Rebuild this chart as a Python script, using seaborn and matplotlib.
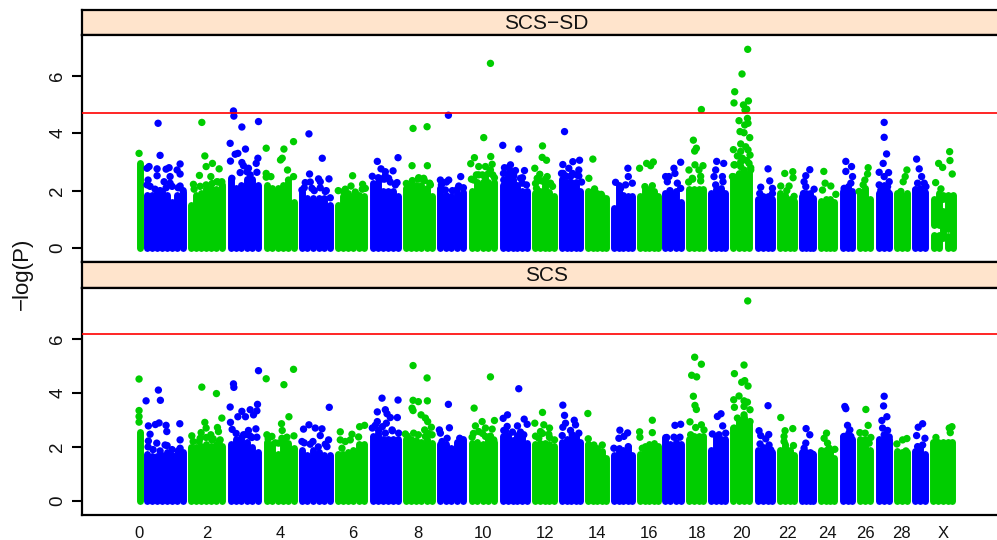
import numpy as np
import pandas as pd
import matplotlib
matplotlib.use("Agg")
import matplotlib.pyplot as plt
import seaborn as sns

chrom_start = [136,143,187,227,263,298,334,369,402,436,468,499,531,558,584,610,636,661,685,707,729,754,776,798,817,839,856,875,893,911,929]
chrom_end = [143,186,225,261,297,333,367,401,435,466,497,530,557,583,609,635,661,684,706,728,752,775,797,816,837,855,873,892,910,928,955]
tick_pos = [139,207,280,352,418,483,545,596,648,696,741,787,827,865,901,942]
tick_labels = ["0","2","4","6","8","10","12","14","16","18","20","22","24","26","28","X"]

sd_tops = [[2.95],
 [1.85,1.85,1.95,2.0,1.85,1.6,1.85,1.95],[1.5,1.85,1.9,2.1,2.1,2.05,2.15],[2.4,2.1,2.2,2.4,2.4,2.2],
 [2.2,2.1,2.1,2.2,2.3,1.6],[2.0,1.75,1.75,1.75,1.75,1.5],[1.5,1.8,1.9,1.8,1.85,1.8],[2.25,2.3,2.0,2.0,2.0,1.8],
 [2.1,2.2,2.2,2.2,2.1,1.8],[2.1,1.85,1.8,1.9,1.95],[2.0,2.3,2.3,2.3,2.3],[2.2,2.6,2.4,2.2,2.0,2.0],
 [1.9,2.0,2.2,1.95,1.8],[2.4,2.3,2.3,2.3,2.0],[2.0,2.0,1.9,1.8,1.75],[1.4,2.2,1.85,1.8,1.8],
 [1.8,2.05,2.05,2.0,1.8],[1.9,2.0,2.0,1.6],[2.05,2.05,2.05,2.05],[1.9,2.05,2.1,1.9],[2.5,2.6,2.6,2.6],
 [1.7,1.8,1.8,1.7],[1.9,1.85,1.7,1.65],[1.8,1.9,1.9,1.75],[1.65,1.7,1.7,1.6],[2.0,2.15,2.0],[1.9,2.1,1.7],
 [1.9,2.2,1.9],[1.9,1.85,1.9],[2.05,2.1,1.95],[]]
scs_tops = [[2.55],
 [1.75,1.65,1.65,1.7,1.8,1.7,1.7,1.8],[2.0,2.0,2.05,2.1,2.05,2.1,2.05],[2.1,2.3,2.35,2.2,2.0,1.8],
 [2.2,2.1,1.75,2.1,2.15,1.95],[1.9,1.7,1.9,1.8,1.7,1.7],[1.75,1.75,1.8,1.9,2.1,2.1],[2.4,2.5,2.3,2.3,2.3,2.3],
 [2.3,2.3,2.25,2.2,2.3,2.15],[2.1,2.1,1.95,2.2,2.3],[2.15,2.2,2.1,2.3,2.2],[2.4,2.45,2.25,2.45,2.45,2.15],
 [2.1,2.15,2.15,2.1,2.05],[2.2,2.3,2.3,2.4,2.2],[2.1,2.0,1.95,1.85,1.6],[1.7,1.95,1.9,2.0,1.7],
 [1.75,2.05,2.1,2.15,2.05],[2.35,2.1,2.2,2.1],[2.3,2.4,2.4,2.4],[1.9,2.4,2.3,2.3],[2.7,3.0,3.1,2.9],
 [1.9,2.0,1.9,1.8],[1.9,2.1,1.9,1.7],[1.8,1.8,1.8,1.75],[1.9,1.9,1.9,1.6],[2.4,2.5,2.3],[2.3,2.3,1.9],
 [2.3,2.3,2.3],[1.85,1.8,1.8],[1.85,2.0,1.75],[2.2,2.2,2.2,2.2,2.2]]

# Chromosome X of the upper panel has visible holes, so it is kept as separate runs.
sd_x_pos = [933,933,938,938,942.5,942.5,947,947,952]
sd_x_low = [0,0.8,0,0.8,0.35,1.7,0,0.65,0]
sd_x_high = [0.45,1.7,0.45,1.9,1.3,1.85,0.4,1.85,1.85]

sd_blue_pos = [158,160,147,149,157,169,166,180,177,180,157,170,164,148,170,180,
 233.3,233.7,241.7,258.3,230,245.3,235,237.7,257.7,230.3,256,241.7,243.3,248.3,240,246.7,256.7,231.7,250,
 308.7,322,309.3,328.7,318.3,320,305,311.7,301.7,325,
 377,397.7,380.7,392.7,385,385,381.7,396.7,388.3,
 448,460.3,440,448.3,458.3,445,
 502.3,518.3,510,504,524,511.7,513.3,503.3,520,521.7,
 564,562.3,572.3,579,562.7,568.3,578.3,570,578.3,
 627.3,627.7,615,631.7,620,625,
 680,673.3,674.3,665,668.3,666.7,676.7,669.3,680,
 716,723,715,721.7,713.3,722.3,715,
 767.3,769,760,771.7,759,771.7,
 809,805,803.3,805,813.3,802.7,
 845,850.7,845,851.7,850,843.3,
 883.3,883.3,885.7,882.3,878.3,887.7,883.3,888.3,878.3,886.7,880,886.7,
 915.7,918.3,920.7,923.3,916.7,925,915,
 147,150,155,160,166,172,178,183,304,310,314,320,326,330,372,378,384,390,395,
 441,446,452,457,463,503,508,515,522,526,561,566,572,576,581]
sd_blue_val = [4.35,3.23,2.78,2.84,2.76,2.8,2.75,2.93,2.72,2.58,2.52,2.49,2.31,2.37,2.26,2.16,
 4.78,4.6,4.22,4.41,3.65,3.45,3.27,3.3,3.13,3.03,2.95,2.98,2.87,2.78,2.63,2.66,2.64,2.43,2.55,
 3.98,3.13,2.58,2.41,2.41,2.31,2.28,2.08,2.02,1.97,
 3.02,3.15,2.76,2.69,2.66,2.52,2.41,2.28,2.43,
 4.63,2.49,2.37,2.37,2.16,2.02,
 3.58,3.45,2.9,2.8,2.7,2.66,2.52,2.37,2.43,2.26,
 4.06,2.91,3.01,3.06,2.6,2.78,2.72,2.49,2.51,
 2.78,2.49,2.29,2.26,2.08,2.2,
 2.99,2.78,2.6,2.49,2.49,2.31,2.26,2.0,2.08,
 3.02,2.95,2.72,2.49,2.49,2.31,2.2,
 2.76,2.34,2.12,2.08,1.9,1.9,
 2.73,2.52,2.31,2.14,2.05,1.9,
 3.02,2.84,2.67,2.49,2.26,2.08,
 4.38,3.86,3.28,2.95,2.64,2.63,2.49,2.31,2.2,2.14,2.02,1.97,
 3.1,2.76,2.49,2.26,2.26,2.14,2.02,
 2.2,2.15,2.05,2.0,2.1,2.15,2.1,2.0,2.1,2.3,2.0,2.1,2.0,1.75,2.5,2.45,2.4,2.3,2.2,
 2.2,2.3,2.0,2.05,2.1,2.6,2.8,2.7,2.45,2.2,2.6,2.5,2.6,2.55,2.3]
sd_green_pos = [139,
 201.7,204.7,212.3,206,219,199.3,210.7,193.3,216.7,221.7,
 266,293.3,283.7,282,280.3,287.3,293.3,266,266,270.7,288.3,
 352.3,350.7,343.3,362.3,365,
 412.7,426.7,411.7,427,418.3,423.3,429.3,
 490,483.3,474,490.3,470.3,491.7,478.3,485,490,478.3,485,492.3,473.3,
 542,541.7,546,534.3,539.3,536.7,546.7,550,536,543.3,
 592.3,588.3,594,600.7,
 639,646,652.7,650,651.7,644.3,
 700.7,692.7,695.7,694,694.3,702.3,688.3,698.3,691.7,700,
 747,741.3,734,747.7,733.3,742.7,746,744.3,746.7,738.3,744,747.3,739.3,743.3,749,740,745,732.7,747.3,740,749.3,736.7,741.7,733.3,740,748.3,750,731.7,738.3,743.3,
 784,792,792.3,780,788.3,786,793.3,
 823,824.3,830,835,821.7,
 867.3,866.7,864,862.3,858.3,
 906,904.3,902.3,900,
 948.7,949,937.7,941.7,951.3,934.7,940,
 194,200,206,212,218,222,338,345,355,362,406,412,418,424,430,
 471,476,482,488,494,535,540,545,552,734,740,746,750,692,700,688]
sd_green_val = [3.3,
 4.38,3.21,2.95,2.84,2.76,2.53,2.49,2.22,2.31,2.31,
 3.48,3.71,3.45,3.13,3.07,2.72,2.49,2.6,2.47,2.49,2.37,
 2.52,2.16,1.97,2.22,2.08,
 4.17,4.23,2.87,2.87,2.45,2.43,2.26,
 6.44,3.85,3.15,3.19,2.94,2.92,2.84,2.84,2.72,2.55,2.43,2.55,2.37,
 3.56,3.16,3.06,2.78,2.57,2.43,2.49,2.26,2.08,2.31,
 3.1,2.43,2.06,1.87,
 2.78,2.95,3.0,2.87,2.17,2.14,
 4.83,3.76,3.48,3.38,2.9,2.87,2.72,2.72,2.43,2.34,
 6.93,6.07,5.45,5.13,5.06,4.99,4.84,4.81,4.52,4.44,4.29,4.35,4.06,4.02,3.85,3.63,3.53,3.43,3.42,3.37,3.24,3.21,3.13,2.9,2.84,2.95,2.72,2.49,2.55,2.72,
 2.6,2.66,2.45,2.16,2.16,2.0,1.8,
 2.67,2.26,2.16,1.87,2.02,
 2.8,2.58,2.37,2.2,1.97,
 2.72,2.49,2.31,1.97,
 3.36,3.05,2.95,2.81,2.58,2.28,2.06,
 2.05,2.15,2.2,2.25,2.3,2.2,2.0,2.05,1.95,2.05,2.25,2.35,2.4,2.35,2.2,
 2.4,2.55,2.55,2.6,2.45,2.25,2.35,2.4,2.15,2.9,3.0,3.05,2.8,2.4,2.5,2.3]

scs_blue_pos = [158.3,146,160.3,148.3,155.3,159,166,166.7,179.7,150,180,148.3,156.7,165,180,
 258.3,233.3,233.7,230,257.3,241.7,250,256.7,237.7,245.3,253.3,230.3,232,255.7,248.3,243.3,256.7,251.7,
 329,308.7,303.3,315,321.7,320,328.3,301.7,312.7,326.7,
 381.7,397.7,377,385,386.7,390,397,377,386,375,391.7,378.3,398.3,385,
 448,449,439,440,446.7,459.3,441.7,
 518.3,507,502.7,523.7,526.7,517,506.7,503.3,523.3,
 562.3,564,573.7,565,562.3,575,570,578.3,561.7,571.7,
 619.3,627,623.3,618.3,613.3,627.7,
 680,674.3,666,673.3,679.3,
 720.3,716.7,722,711.7,725,718.3,
 767.3,758.3,768,760,765,759.3,768.3,770,
 805.3,809,805,803.3,811.7,
 844,845,846.7,849,843.3,850,
 883.3,882.7,886,881,881.7,886.7,888.3,883.3,
 921.7,917.3,915.7,924,921.7,916.7,
 148,153,160,167,172,178,304,310,318,325,236,245,250,372,382,392,505,512,520]
scs_blue_val = [4.11,3.71,3.73,2.78,2.83,2.89,2.8,2.57,2.86,2.47,2.26,2.22,2.14,2.07,1.95,
 4.83,4.34,4.21,3.48,3.58,3.32,3.38,3.34,3.12,3.12,3.19,2.91,2.65,2.67,2.61,2.45,2.36,2.35,
 3.47,2.82,2.66,2.7,2.67,2.42,2.26,2.2,2.2,2.01,
 3.81,3.74,3.3,3.38,3.23,3.09,3.09,2.94,2.88,2.8,2.63,2.61,2.51,2.51,
 3.58,2.71,2.63,2.51,2.32,2.32,2.2,
 4.16,3.19,3.06,3.03,2.84,2.78,2.76,2.61,2.45,
 3.55,3.17,2.99,2.88,2.73,2.82,2.61,2.51,2.42,2.45,
 2.62,2.52,2.39,2.32,1.95,2.01,
 2.84,2.8,2.35,2.36,2.36,
 3.23,3.13,2.78,2.48,2.51,2.45,
 3.53,2.6,2.46,2.42,2.3,2.11,2.07,1.89,
 2.68,2.45,2.14,1.95,1.73,
 3.5,3.42,2.8,2.63,2.39,2.39,
 3.88,3.52,3.12,2.98,2.7,2.61,2.37,2.45,
 2.86,2.73,2.42,2.32,2.07,2.01,
 2.0,1.9,1.85,2.05,1.9,1.85,2.15,2.1,2.0,2.1,2.5,2.45,2.4,2.7,2.75,2.6,2.6,2.55,2.55]
scs_green_pos = [139,139,139,139,
 201.7,216.3,221.7,204.7,206,201,217.3,218.3,191.7,200,210.7,220,211.7,
 266,293.3,283.7,288.7,281.3,282,266.7,271.7,293.7,286.7,281.7,278.3,
 340,364.3,359.3,351.7,358.3,340,345,350,341.7,
 412.7,426.7,412.7,418,427,411.7,412.7,420.7,425,427.3,431,424.3,405,413.3,425,431.7,
 490,473.7,481.7,494,475,485,491.7,471.7,478.3,493.3,485,
 542,534.3,543.3,549,540,548.3,554,538.3,
 587.3,587.7,601.7,593.3,588.3,
 651.7,639,651.7,639.3,641.7,
 694,700.7,691,696,692.7,694.3,695.7,689.3,700.7,695,703.3,690,693.3,
 747,743.3,733.7,744,741,747.3,738.3,733,743.3,746.7,733.7,743.3,749.3,743.3,736.7,749.3,740,733.3,748.3,741.7,
 780,792,784.3,783.3,792.7,783.3,
 825.7,823.3,826.7,834,828.3,
 865,867.3,859,864.3,870,868.3,860,
 906,901.7,896,905,
 951,948.3,949.3,935,
 193,199,206,213,219,268,275,284,407,418,428,473,482,490,535,542,549]
scs_green_val = [4.52,3.35,3.13,2.92,
 4.22,3.98,3.07,2.91,2.7,2.53,2.72,2.57,2.41,2.32,2.45,2.26,2.26,
 4.53,4.88,4.31,3.12,2.86,2.61,2.45,2.39,2.41,2.36,2.32,2.14,
 2.56,2.8,2.75,2.47,2.37,2.26,2.2,2.26,1.95,
 5.02,4.56,3.73,3.68,3.71,3.44,3.35,3.19,3.07,2.94,2.73,2.63,2.48,2.51,2.39,2.45,
 4.6,3.44,2.94,2.98,2.78,2.7,2.66,2.36,2.57,2.26,2.39,
 3.28,2.88,2.82,2.7,2.57,2.47,2.26,2.32,
 3.24,2.3,2.07,2.07,2.07,
 2.99,2.56,2.53,2.36,1.95,
 5.33,5.07,4.66,4.6,3.88,3.54,3.39,2.93,2.82,2.72,2.63,2.45,2.32,
 7.42,5.04,4.72,4.46,4.4,4.26,3.89,3.75,3.71,3.66,3.47,3.5,3.38,3.19,3.07,2.94,2.88,2.7,2.7,2.63,
 3.09,2.68,2.6,2.39,2.05,2.2,
 2.51,2.32,2.14,1.91,1.95,
 3.39,2.8,2.53,2.51,2.35,2.14,2.2,
 2.31,2.26,2.11,1.85,
 2.75,2.7,2.53,2.35,
 2.2,2.2,2.35,2.3,2.2,2.3,2.15,2.2,2.4,2.45,2.5,2.5,2.5,2.4,2.4,2.5,2.35]

panel_titles = ["SCS\u2212SD", "SCS"]
panel_thresholds = [4.7, 6.2]
panel_ylim = [(-0.49, 7.43), (-0.51, 7.9)]
BLUE, GREEN = "#0000FF", "#00CD00"
W, H = 997, 540

sns.set_theme(style="white")
plt.rcParams["font.family"] = ["Liberation Sans", "DejaVu Sans"]
plt.rcParams["axes.unicode_minus"] = True
fig = plt.figure(figsize=(W/100, H/100), dpi=100)

def px_axes(l, t, r, b):
    return fig.add_axes([l/W, 1-b/H, (r-l)/W, (b-t)/H])

def draw_panel(ax, tops, bp, bv, gp, gv, thr, ylim):
    for i, t in enumerate(tops):
        if not t:
            continue
        col = GREEN if i % 2 == 0 else BLUE
        xs = np.linspace(chrom_start[i]+3.5, chrom_end[i]-3.5, len(t)) if len(t) > 1 else [(chrom_start[i]+chrom_end[i])/2]
        ax.vlines(xs, 0, t, colors=col, linewidth=5.0, capstyle="round", zorder=2)
    df = pd.DataFrame({"pos": list(bp)+list(gp), "logp": list(bv)+list(gv),
                       "col": ["b"]*len(bp)+["g"]*len(gp)})
    sns.scatterplot(data=df, x="pos", y="logp", hue="col", palette={"b": BLUE, "g": GREEN},
                    s=28, linewidth=0, legend=False, ax=ax, zorder=3)
    ax.axhline(thr, color="#FF0000", lw=1.2, zorder=4)
    ax.set_xlim(82, 997)
    ax.set_ylim(*ylim)
    ax.set_xlabel(""); ax.set_ylabel("")
    ax.set_yticks([0, 2, 4, 6])
    ax.tick_params(axis="y", left=True, length=7.2, width=1.5, color="black", pad=4, labelsize=13.5, labelcolor="#111111")
    for lab in ax.get_yticklabels():
        lab.set_rotation(90); lab.set_va("center")
    ax.spines["right"].set_visible(False)
    for s in ("left", "top", "bottom"):
        ax.spines[s].set_linewidth(1.6); ax.spines[s].set_color("black")

def draw_strip(ax, title):
    ax.set_facecolor("#FFE4CC")
    ax.set_xticks([]); ax.set_yticks([])
    ax.set_xlim(82, 997); ax.set_ylim(0, 1)
    ax.spines["right"].set_visible(False)
    for s in ("left", "top", "bottom"):
        ax.spines[s].set_linewidth(1.6); ax.spines[s].set_color("black")
    ax.text(546, 0.47, title, ha="center", va="center", fontsize=15, color="#111111")

s1 = px_axes(82, 10, 998, 35); draw_strip(s1, panel_titles[0])
a1 = px_axes(82, 35, 998, 262)
draw_panel(a1, sd_tops, sd_blue_pos, sd_blue_val, sd_green_pos, sd_green_val, panel_thresholds[0], panel_ylim[0])
a1.vlines(sd_x_pos, sd_x_low, sd_x_high, colors=GREEN, linewidth=5.0, capstyle="round", zorder=2)
a1.set_xticks([])
s2 = px_axes(82, 262, 998, 288); draw_strip(s2, panel_titles[1])
a2 = px_axes(82, 288, 998, 514.5)
draw_panel(a2, scs_tops, scs_blue_pos, scs_blue_val, scs_green_pos, scs_green_val, panel_thresholds[1], panel_ylim[1])
a2.set_xticks(tick_pos)
a2.set_xticklabels(tick_labels)
a2.tick_params(axis="x", bottom=False, length=0, pad=8, labelsize=12, labelcolor="#111111")

fig.text(22/W, 1-274/H, "\u2212log(P)", rotation=90, ha="center", va="center", fontsize=16, color="#111111")
fig.savefig("out.png", dpi=100)
